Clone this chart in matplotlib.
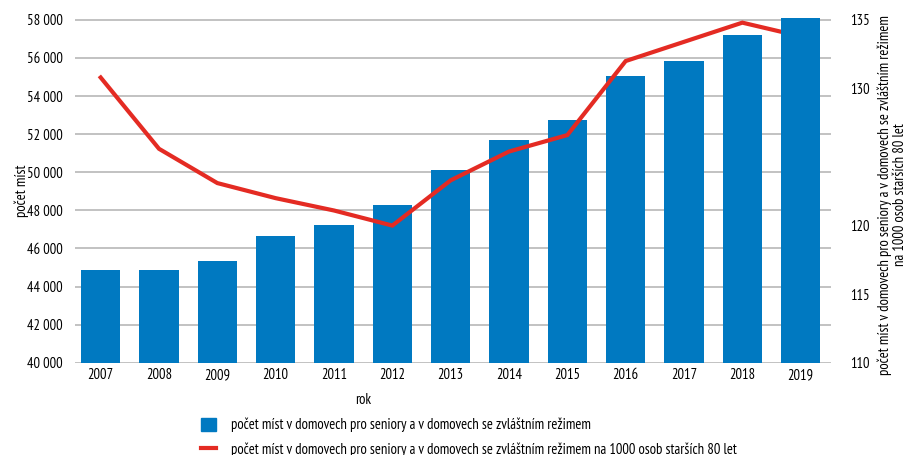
import matplotlib
matplotlib.use("Agg")
import matplotlib.pyplot as plt
from matplotlib.ticker import FuncFormatter
from matplotlib.patches import Patch
from matplotlib.lines import Line2D

plt.rcParams['font.family'] = ['PT Sans Narrow', 'DejaVu Sans']
plt.rcParams['font.size'] = 10

years = ['2007', '2008', '2009', '2010', '2011', '2012', '2013',
         '2014', '2015', '2016', '2017', '2018', '2019']
places = [44870, 44870, 45340, 46650, 47230, 48280, 50120,
          51700, 52750, 55060, 55850, 57210, 58100]
per_1000 = [130.8, 125.6, 123.1, 122.0, 121.1, 120.0, 123.3,
            125.4, 126.6, 132.0, 133.4, 134.8, 133.8]

bar_label = 'počet míst v domovech pro seniory a v domovech se zvláštním režimem'
line_label = 'počet míst v domovech pro seniory a v domovech se zvláštním režimem na 1000 osob starších 80 let'
right_label = 'počet míst v domovech pro seniory a v domovech se zvláštním režimem\nna 1000 osob starších 80 let'

blue = '#0079c1'
red = '#e42b23'

left_lim = (40000, 58100)
right_lim = (110, 110 + (left_lim[1] - left_lim[0]) / 18000 * 25)


def to_left(v):
    # map right-axis value onto left-axis scale
    return left_lim[0] + (v - right_lim[0]) / (right_lim[1] - right_lim[0]) * (left_lim[1] - left_lim[0])


fig = plt.figure(figsize=(9.06, 4.55), dpi=100)
ax = fig.add_axes([75 / 906, 1 - 362.7 / 455, (831 - 75) / 906, (362.7 - 18) / 455])
x = list(range(len(years)))

ax.bar(x, places, width=0.67, color=blue, zorder=2)
ax.plot(x, [to_left(v) for v in per_1000], color=red, lw=3, zorder=3,
        solid_joinstyle='miter')
# last bar sits on top of the line in the original
ax.bar(x[-1:], places[-1:], width=0.67, color=blue, zorder=4)

ax.set_ylim(*left_lim)
ax.set_xlim(-0.44, 12.52)
ax.set_yticks(range(40000, 58001, 2000))
ax.yaxis.set_major_formatter(FuncFormatter(lambda v, p: f'{int(v):,}'.replace(',', ' ')))
ax.set_xticks(x)
ax.set_xticklabels(years)
ax.grid(axis='y', color='#bdbdbd', lw=1.3, zorder=0)
ax.set_axisbelow(True)
for s in ax.spines.values():
    s.set_visible(False)
ax.tick_params(axis='both', length=0, labelsize=10.5)
ax.tick_params(axis='y', pad=9)
ax.tick_params(axis='x', pad=4)
ax.set_ylabel('počet míst', fontsize=10.5, ha='center', va='center')
ax.yaxis.set_label_coords(-0.070, 0.5)

ax2 = ax.twinx()
ax2.set_ylim(*right_lim)
ax2.set_yticks([110, 115, 120, 125, 130, 135])
ax2.set_yticklabels(['110', '115', '120', '', '130', '135'])
for s in ax2.spines.values():
    s.set_visible(False)
ax2.tick_params(axis='y', length=0, labelsize=10.5, pad=14)
ax2.set_ylabel(right_label, fontsize=10.5, rotation=90, ha='center', va='center',
               linespacing=1.15)
ax2.yaxis.set_label_coords(1.081, 0.487)

fig.text(363 / 906, 1 - 400 / 455, 'rok', ha='center', va='center', fontsize=10.5)

handles = [Patch(color=blue), Line2D([0], [0], color=red, lw=3)]
fig.legend(handles, [bar_label, line_label], loc='upper left',
           bbox_to_anchor=(195 / 906, 1 - 412 / 455), frameon=False,
           fontsize=10.5, handlelength=1.05, handleheight=1.0,
           labelspacing=0.68, handletextpad=1.0, borderaxespad=0)

fig.savefig('out.png', dpi=100)
